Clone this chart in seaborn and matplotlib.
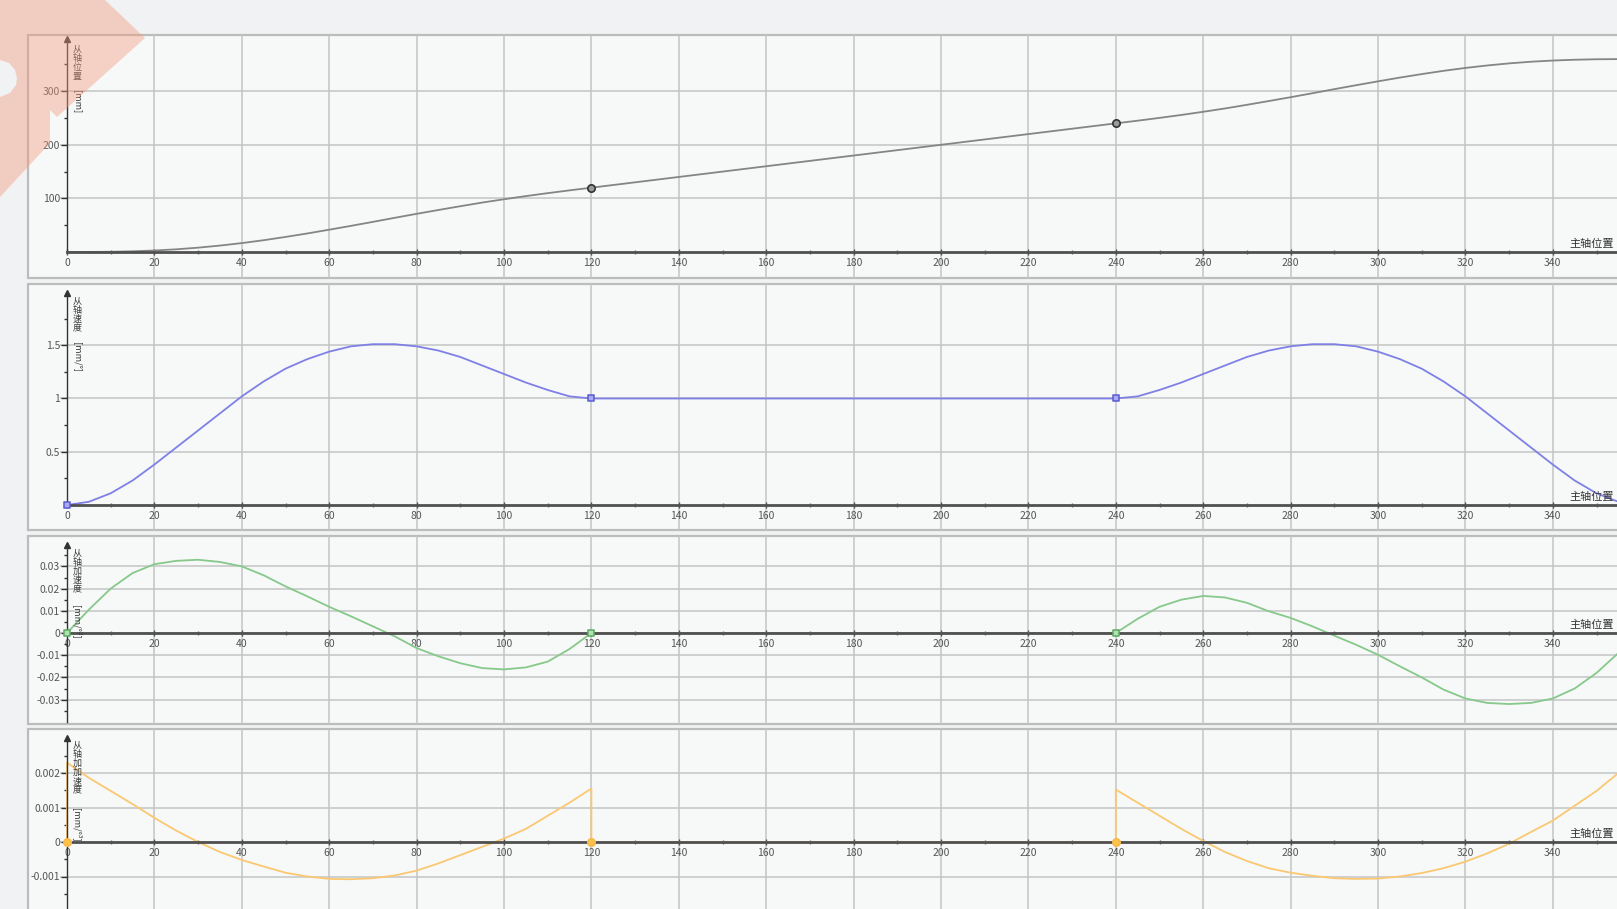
import matplotlib
matplotlib.use("Agg")
import matplotlib.pyplot as plt
import seaborn as sns
from matplotlib.patches import Rectangle, Polygon

sns.set_theme(style="white")
plt.rcParams['font.family'] = ['Noto Sans CJK SC', 'DejaVu Sans']
plt.rcParams['axes.unicode_minus'] = False

# ---------------- data ----------------
angle = list(range(0, 365, 5))

position = [0, 0.1, 0.4, 1.3, 2.8, 5.0, 8.1, 12.0, 16.6, 22.0,
            28.1, 34.6, 41.6, 48.8, 56.2, 63.8, 71.2, 78.4, 85.4, 92.2,
            98.4, 104.3, 109.8, 115.0, 120.0,
            125, 130, 135, 140, 145, 150, 155, 160, 165, 170, 175, 180,
            185, 190, 195, 200, 205, 210, 215, 220, 225, 230, 235,
            240.0, 245.0, 250.2, 255.7, 261.6, 267.8, 274.6, 281.6, 288.8, 296.2,
            303.8, 311.2, 318.4, 325.4, 331.9, 338.0, 343.4, 348.0, 351.9, 355.0,
            357.2, 358.7, 359.6, 359.9, 360.0]

velocity = [0.0, 0.03, 0.11, 0.23, 0.38, 0.54, 0.70, 0.86, 1.02, 1.16,
            1.28, 1.37, 1.44, 1.49, 1.51, 1.51, 1.49, 1.45, 1.39, 1.31,
            1.23, 1.15, 1.08, 1.02, 1.00,
            1, 1, 1, 1, 1, 1, 1, 1, 1, 1, 1, 1,
            1, 1, 1, 1, 1, 1, 1, 1, 1, 1, 1,
            1.00, 1.02, 1.08, 1.15, 1.23, 1.31, 1.39, 1.45, 1.49, 1.51,
            1.51, 1.49, 1.44, 1.37, 1.28, 1.16, 1.02, 0.86, 0.70, 0.54,
            0.38, 0.23, 0.11, 0.03, 0.0]

acceleration = [0.0, 0.0105, 0.020, 0.027, 0.031, 0.0325, 0.033, 0.032, 0.030, 0.026,
                0.021, 0.0165, 0.0118, 0.0075, 0.003, -0.0015, -0.0068, -0.0105, -0.0136, -0.0158,
                -0.0164, -0.0155, -0.0129, -0.0072, 0.0,
                0, 0, 0, 0, 0, 0, 0, 0, 0, 0, 0, 0,
                0, 0, 0, 0, 0, 0, 0, 0, 0, 0, 0,
                0.0, 0.0064, 0.0118, 0.015, 0.0167, 0.016, 0.0136, 0.0098, 0.0068, 0.003,
                -0.0012, -0.0053, -0.0098, -0.015, -0.020, -0.0255, -0.0295, -0.0315, -0.032, -0.0315,
                -0.0295, -0.025, -0.018, -0.009, 0.0]

jerk_angle = ([0] + list(range(0, 121, 5)) + [120]
              + list(range(125, 236, 5))
              + [240] + list(range(240, 361, 5)))

jerk = [0.0, 0.0023, 0.00186, 0.00148, 0.0011, 0.0007, 0.00033, 0.0, -0.00029, -0.00052,
        -0.00071, -0.00089, -0.0010, -0.00107, -0.00108, -0.00105, -0.00097, -0.00083, -0.00062, -0.00038,
        -0.00014, 0.0001, 0.00038, 0.00076, 0.00114, 0.00155, 0.0,
        0, 0, 0, 0, 0, 0, 0, 0, 0, 0, 0, 0,
        0, 0, 0, 0, 0, 0, 0, 0, 0, 0, 0,
        0.0, 0.00152, 0.00114, 0.00076, 0.00038, 0.00003, -0.00029, -0.00055, -0.00076, -0.00089,
        -0.00098, -0.00105, -0.00107, -0.00106, -0.0010, -0.0009, -0.00076, -0.00057, -0.00033, -0.00005,
        0.00029, 0.00062, 0.00105, 0.00148, 0.0020, 0.0024]

key_angles = [120, 240]
key_angles0 = [0, 120, 240]

x_ticks = list(range(0, 341, 20))
pos_ticks = [100, 200, 300]
vel_ticks = [0.5, 1, 1.5]
vel_ticklabels = ["0.5", "1", "1.5"]
acc_ticks = [0.03, 0.02, 0.01, 0, -0.01, -0.02, -0.03]
acc_ticklabels = ["0.03", "0.02", "0.01", "0", "-0.01", "-0.02", "-0.03"]
jerk_ticks = [0.002, 0.001, 0, -0.001]
jerk_ticklabels = ["0.002", "0.001", "0", "-0.001"]

x_label = "主轴位置"
y_titles = [("从轴位置", "[mm]"), ("从轴速度", "[mm/°]"),
            ("从轴加速度", "[mm/°²]"), ("从轴加加速度", "[mm/°³]")]

# ---------------- layout ----------------
W, H = 1617, 909
X0, PXD = 67, 4.37          # pixel of angle 0, pixels per degree
FRAME_L = 28
BG = '#f1f2f3'
PANEL_BG = '#f7f8f8'
GRID = '#c4c4c4'
TXT = '#555555'

fig = plt.figure(figsize=(W / 100, H / 100), dpi=100, facecolor=BG)


def fx(px):
    return px / W


def fy(py):
    return 1 - py / H


def make_panel(top, bottom, zero_px, ppu, ax_top_px, ax_bot_px):
    ax = fig.add_axes([fx(FRAME_L), fy(bottom), fx(W - FRAME_L), (bottom - top) / H])
    ax.patch.set_alpha(0)
    fig.patches.append(Rectangle((fx(FRAME_L), fy(bottom)), fx(W - FRAME_L + 20),
                                 (bottom - top) / H, transform=fig.transFigure,
                                 facecolor=PANEL_BG, edgecolor='#bcbcbc', lw=1.6, zorder=-5))
    ylo = -(bottom - zero_px) / ppu
    yhi = (zero_px - top) / ppu
    return ax, (ylo, yhi), ((zero_px - ax_bot_px) / ppu, (zero_px - ax_top_px) / ppu)


def style_panel(ax, ylim, ybounds, yticks, yticklabels, ymin_ticks, title, unit, title_top_px):
    xlim = ((FRAME_L - X0) / PXD, (W - X0) / PXD)
    ax.set_xlim(*xlim)
    ax.set_ylim(*ylim)
    # grid
    ax.vlines(x_ticks[1:], ylim[0], ylim[1], color=GRID, lw=1.1, zorder=0)
    ax.hlines(yticks, -1.5, 360, color=GRID, lw=1.1, zorder=0)
    # axes lines
    for s in ['top', 'right']:
        ax.spines[s].set_visible(False)
    ax.spines['bottom'].set_visible(True)
    ax.spines['bottom'].set_position(('data', 0))
    ax.spines['bottom'].set_bounds(0, 360)
    ax.spines['bottom'].set_color('#505050')
    ax.spines['bottom'].set_linewidth(2.0)
    ax.spines['left'].set_visible(True)
    ax.spines['left'].set_position(('data', 0))
    ax.spines['left'].set_bounds(*ybounds)
    ax.spines['left'].set_color('#333333')
    ax.spines['left'].set_linewidth(1.0)
    ax.plot([0], [ybounds[1]], marker='^', ms=4, color='#333333', clip_on=False, zorder=5)
    ax.set_xticks(x_ticks)
    ax.set_xticklabels([str(t) for t in x_ticks])
    ax.set_xticks(list(range(10, 351, 20)), minor=True)
    ax.set_yticks(yticks)
    ax.set_yticklabels(yticklabels)
    ax.set_yticks(ymin_ticks, minor=True)
    ax.tick_params(axis='x', which='major', bottom=True, direction='inout', length=5,
                   width=1, color='#505050', labelsize=7.5, labelcolor=TXT, pad=2)
    ax.tick_params(axis='x', which='minor', bottom=True, direction='inout', length=3,
                   width=1, color='#707070')
    ax.tick_params(axis='y', which='major', left=True, direction='out', length=4,
                   width=1, color='#333333', labelsize=7.5, labelcolor=TXT, pad=1)
    ax.tick_params(axis='y', which='minor', left=True, direction='out', length=2.5,
                   width=1, color='#333333')
    ax.set_xlabel('')
    ax.set_ylabel('')
    ax.annotate(x_label, xy=(1, 0), xycoords=('axes fraction', 'data'),
                xytext=(-2, 2), textcoords='offset points', ha='right', va='bottom',
                fontsize=8, color='#333333')
    # vertical stacked axis title
    n = len(title)
    fig.text(fx(77), fy(title_top_px), "\n".join(title), ha='center', va='top',
             fontsize=6.5, color='#3a3a3a', linespacing=1.0)
    fig.text(fx(77), fy(title_top_px + n * 11 + 1), unit, ha='center', va='top',
             rotation=-90, fontsize=6.5, color='#3a3a3a')


# Panel 1: position
ax1, yl1, yb1 = make_panel(35, 278, 252, 0.536, 39, 252)
sns.lineplot(x=angle, y=position, ax=ax1, color='#858585', lw=1.3,
             estimator=None, sort=False, legend=False)
pos_key = [position[angle.index(a)] for a in key_angles]
sns.scatterplot(x=key_angles, y=pos_key, ax=ax1, marker='o', s=28,
                facecolor='#9a9a9a', edgecolor='#333333', linewidth=1.2, zorder=6, legend=False)
style_panel(ax1, yl1, yb1, pos_ticks, [str(t) for t in pos_ticks],
            [50, 150, 250, 350], y_titles[0][0], y_titles[0][1], 45)

# Panel 2: velocity
ax2, yl2, yb2 = make_panel(284, 530, 505, 106.5, 293, 505)
sns.lineplot(x=angle, y=velocity, ax=ax2, color='#7f80e6', lw=1.3,
             estimator=None, sort=False, legend=False)
vel_key = [velocity[angle.index(a)] for a in key_angles0]
sns.scatterplot(x=key_angles0, y=vel_key, ax=ax2, marker='s', s=24,
                facecolor='#a9aaf0', edgecolor='#5a5bd0', linewidth=1.1, zorder=6, legend=False)
style_panel(ax2, yl2, yb2, vel_ticks, vel_ticklabels,
            [0.25, 0.75, 1.25, 1.75], y_titles[1][0], y_titles[1][1], 297)

# Panel 3: acceleration
ax3, yl3, yb3 = make_panel(536, 724, 633, 2220, 545, 722)
sns.lineplot(x=angle, y=acceleration, ax=ax3, color='#86c98a', lw=1.3,
             estimator=None, sort=False, legend=False)
acc_key = [acceleration[angle.index(a)] for a in key_angles0]
sns.scatterplot(x=key_angles0, y=acc_key, ax=ax3, marker='s', s=24,
                facecolor='#b5e0b5', edgecolor='#5aab5e', linewidth=1.1, zorder=6, legend=False)
style_panel(ax3, yl3, yb3, acc_ticks, acc_ticklabels,
            [0.035, 0.025, 0.015, 0.005, -0.005, -0.015, -0.025, -0.035],
            y_titles[2][0], y_titles[2][1], 549)

# Panel 4: jerk
ax4, yl4, yb4 = make_panel(729, 930, 842, 34500, 738, 930)
sns.lineplot(x=jerk_angle, y=jerk, ax=ax4, color='#fbc872', lw=1.3,
             estimator=None, sort=False, legend=False)
jerk_key = [0.0 for a in key_angles0]
sns.scatterplot(x=key_angles0, y=jerk_key, ax=ax4, marker='o', s=30,
                facecolor='#fcc24a', edgecolor='#f7b84a', linewidth=1.0, zorder=6, legend=False)
style_panel(ax4, yl4, yb4, jerk_ticks, jerk_ticklabels,
            [0.0025, 0.0015, 0.0005, -0.0005, -0.0015], y_titles[3][0], y_titles[3][1], 741)

# watermark shape in the top-left corner
wm = [(0, 0), (105, 0), (145, 38), (57, 117), (50, 110), (50, 143), (0, 197),
      (0, 97), (10, 93), (16, 85), (17, 78), (15, 70), (9, 63), (0, 60)]
fig.patches.append(Polygon([(fx(a), fy(b)) for a, b in wm], closed=True,
                           transform=fig.transFigure, facecolor='#f39a7c',
                           edgecolor='none', alpha=0.42, zorder=20))

fig.savefig("out.png", dpi=100, facecolor=BG)
